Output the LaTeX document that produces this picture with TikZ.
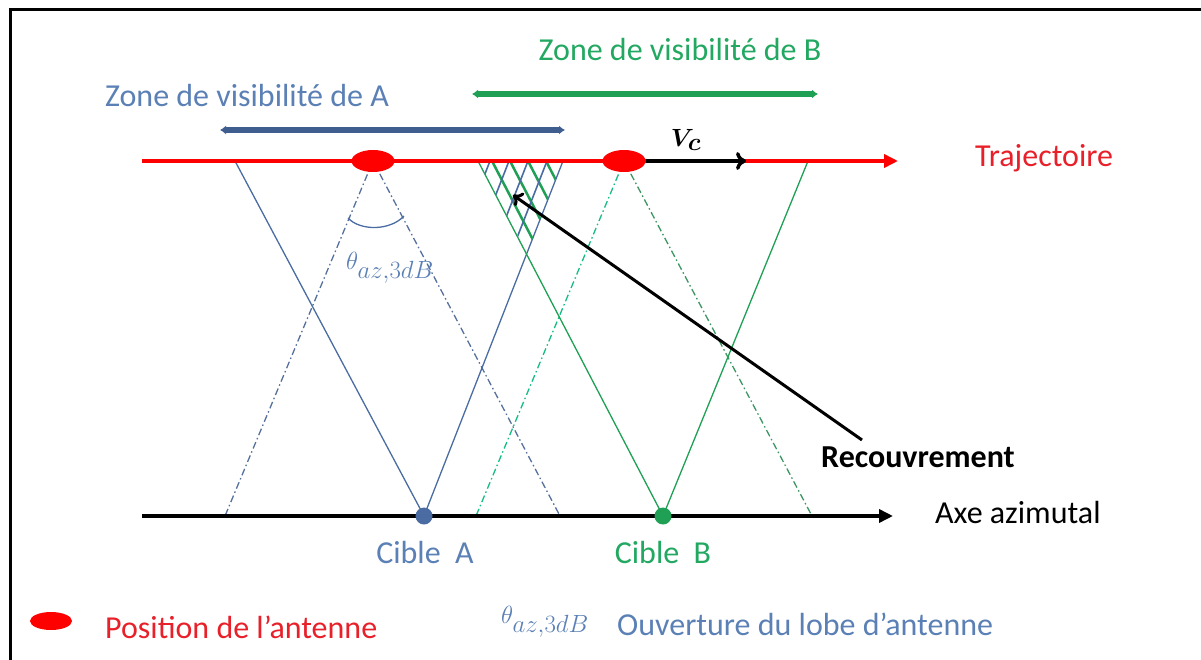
\documentclass[tikz,border=0pt]{standalone}
\usepackage{fontspec}
\setmainfont{Carlito}
\usepackage{bm}
\usetikzlibrary{arrows.meta,positioning,shapes.geometric}
\definecolor{rouge}{HTML}{FF0000}
\definecolor{rougetxt}{HTML}{E8202A}
\definecolor{bleuA}{HTML}{4A6CA3}
\definecolor{bleuzone}{HTML}{3F5E8F}
\definecolor{bleutxt}{HTML}{5B80B5}
\definecolor{vertB}{HTML}{1FA055}
\definecolor{verttxt}{HTML}{22A860}
\tikzset{
  lbl/.style={font=\fontsize{32}{36}\selectfont, inner sep=0pt},
  grand/.style={font=\fontsize{40}{44}\selectfont, inner sep=0pt},
  antenne/.style={ellipse, fill=rouge, minimum width=43pt, minimum height=22pt, inner sep=0pt},
  cible/.style={circle, minimum size=17pt, inner sep=0pt},
  axe/.style={line width=4pt, -{Triangle[length=14pt,width=13pt]}},
  zone/.style={line width=6pt, {Latex[length=6pt,width=9pt]}-{Latex[length=6pt,width=9pt]}},
  lobe/.style={line width=1.3pt},
  lobept/.style={line width=1.3pt, dash pattern=on 7pt off 3pt on 1.5pt off 3pt},
  fleche/.style={line width=3.5pt, -{To[length=10pt,width=18pt]}},
}

\begin{document}
\begin{tikzpicture}[x=1pt, y=-1pt]
        \useasboundingbox (0,0) rectangle (1201,660);
        \draw[line width=3pt] (1215,10) -- (10,10) -- (10,675);
        % antennes et cibles
        \coordinate (pA) at (373,161);
        \coordinate (pB) at (624,161);
        \coordinate (a1) at (235,161);
        \coordinate (a2) at (563,161);
        \coordinate (b1) at (478,161);
        \coordinate (b2) at (808,161);
        \coordinate (da1) at (225,516);
        \coordinate (da2) at (560,516);
        \coordinate (db1) at (476,516);
        \coordinate (db2) at (812,516);
        \coordinate (t0) at (142,161);
        \coordinate (t1) at (898,161);
        \coordinate (x0) at (142,516);
        \coordinate (x1) at (893,516);
        % lobes
        \draw[lobept, bleuA!80!gray] (pA) -- (da1);
        \draw[lobept, bleuA!80!gray] (pA) -- (da2);
        \draw[lobept, vertB!70!cyan] (pB) -- (db1);
        \draw[lobept, vertB!70!gray] (pB) -- (db2);
        \draw[lobe, bleuA] (a1) -- (424,516) -- (a2);
        \draw[lobe, vertB] (b1) -- (663,516) -- (b2);
        % recouvrement
        \begin{scope}
          \clip (b1) -- (a2) -- (527,253) -- cycle;
          \foreach \x in {492,510,528,546}
            \draw[vertB, line width=2.5pt] (\x,161) -- ++(92.5,178);
          \foreach \x in {490,509,528,547}
            \draw[bleuA, line width=1.6pt] (\x,161) -- ++(-69.5,178);
        \end{scope}
        \draw[axe, rouge] (t0) -- (t1);
        \draw[axe, black] (x0) -- (x1);
        \node[antenne] (antA) at (pA) {};
        \node[antenne] (antB) at (pB) {};
        \node[cible, fill=bleuA] (cibA) at (424,516) {};
        \node[cible, fill=vertB] (cibB) at (663,516) {};
        \node[lbl, text=bleutxt] (cibAlbl) at (425,552) {Cible~~A};
        \node[lbl, text=verttxt] (cibBlbl) at (663,552) {Cible~~B};
        \node[lbl, text=rougetxt, anchor=west] (trajlbl) at (975,158) {Trajectoire};
        \node[lbl, anchor=west] (axelbl) at (935,513) {Axe azimutal};
        % vitesse
        \coordinate (vc) at (746,161);
        \draw[fleche] (antB.east) -- (vc);
        \node[grand] (vclbl) at (686,140) {$\bm{V_c}$};
        % zones de visibilite
        \node[lbl, text=bleutxt] (zoneA) at (247,96) {Zone de visibilité de A};
        \node[lbl, text=verttxt] (zoneB) at (680,50) {Zone de visibilité de B};
        \coordinate (za0) at (220,130);
        \coordinate (za1) at (565,130);
        \coordinate (zb0) at (472,94);
        \coordinate (zb1) at (818,94);
        \draw[zone, bleuzone] (za0) -- (za1);
        \draw[zone, vertB] (zb0) -- (zb1);
        % ouverture
        \draw[lobe, bleuA] (348,218) .. controls (360,231) and (390,231) .. (404,216);
        \node[grand, text=bleutxt] (theta) at (390,268) {$\theta_{az,3dB}$};
        % recouvrement
        \node[lbl, font=\fontsize{32}{36}\selectfont\bfseries] (recouv) at (918,457) {Recouvrement};
        \coordinate (depart) at (862,440);
        \coordinate (hachure) at (513,195);
        \draw[line width=3pt, -{To[length=9pt,width=16pt]}] (depart) -- (hachure);
        % legende
        \node[antenne, minimum width=42pt, minimum height=18pt] (legant) at (51,621) {};
        \node[lbl, text=rougetxt, anchor=west] (legantlbl) at (105,627) {Position de l’antenne};
        \node[lbl, font=\fontsize{35}{38}\selectfont, text=bleutxt] (legtheta) at (545,622) {$\theta_{az,3dB}$};
        \node[lbl, text=bleutxt, anchor=west] (legthetalbl) at (617,624) {Ouverture du lobe d’antenne};
      \end{tikzpicture}
\end{document}
